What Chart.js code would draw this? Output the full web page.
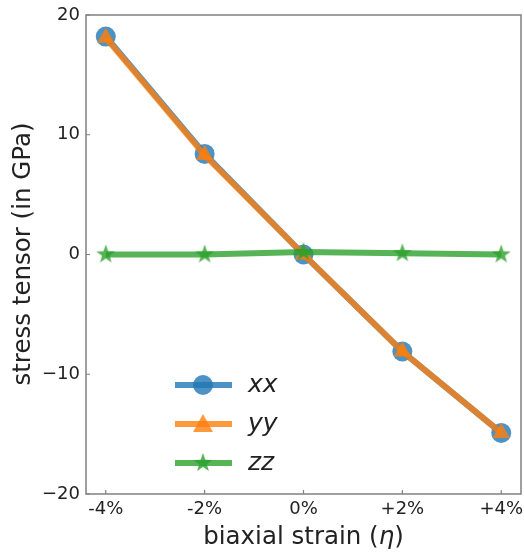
<!DOCTYPE html>
<html>
<head>
<meta charset="utf-8">
<script src="https://cdn.jsdelivr.net/npm/chart.js@4/dist/chart.umd.min.js"></script>
<style>
  html, body { margin: 0; padding: 0; background: #fff; }
  #wrap { width: 524px; height: 556px; }
</style>
</head>
<body>
<div id="wrap"><canvas id="stressChart" width="524" height="556"></canvas></div>
<script>
// biaxial strain in %, and stress tensor components in GPa
const strain = [-4, -2, 0, 2, 4];
const strainLabels = ['-4%', '-2%', '0%', '+2%', '+4%'];
const sxx = [18.2, 8.4, 0.0, -8.1, -14.9];
const syy = [18.1, 8.3, 0.0, -8.1, -14.9];
const szz = [0.0, 0.0, 0.2, 0.1, 0.0];
const yTicks = [20, 10, 0, -10, -20];

const BLUE = 'rgba(31,119,180,0.8)';
const ORANGE = 'rgba(255,127,14,0.8)';
const GREEN = 'rgba(44,160,44,0.8)';
const FONT = '"DejaVu Sans", sans-serif';

// filled five-point star, since the built-in 'star' is only stroked
function makeStar(r, color) {
  const c = document.createElement('canvas');
  c.width = c.height = r * 2 + 2;
  const g = c.getContext('2d');
  g.fillStyle = color;
  g.beginPath();
  for (let i = 0; i < 10; i++) {
    const rr = i % 2 === 0 ? r : r * 0.4;
    const a = -Math.PI / 2 + i * Math.PI / 5;
    const px = r + 1 + rr * Math.cos(a);
    const py = r + 1 + rr * Math.sin(a);
    if (i === 0) g.moveTo(px, py); else g.lineTo(px, py);
  }
  g.closePath();
  g.fill();
  return c;
}
const starImg = makeStar(10, GREEN);

const toPoints = ys => strain.map((x, i) => ({ x: x, y: ys[i] }));
const fmtY = v => (v < 0 ? '\u2212' + Math.abs(v) : String(v));

// inward ticks, frame, axis titles and the legend box
const decorations = {
  id: 'decorations',
  afterDraw(chart) {
    const { ctx, chartArea: a, scales } = chart;
    const xs = scales.x, ys = scales.y;
    ctx.save();
    ctx.strokeStyle = '#808080';
    ctx.lineWidth = 1.5;
    ctx.strokeRect(a.left, a.top, a.right - a.left, a.bottom - a.top);

    ctx.lineWidth = 1.2;
    ctx.beginPath();
    strain.forEach(v => {
      const px = xs.getPixelForValue(v);
      ctx.moveTo(px, a.bottom);
      ctx.lineTo(px, a.bottom - 4);
    });
    yTicks.forEach(v => {
      const py = ys.getPixelForValue(v);
      ctx.moveTo(a.left, py);
      ctx.lineTo(a.left + 4, py);
    });
    ctx.stroke();

    ctx.fillStyle = '#222';
    ctx.font = '18px ' + FONT;
    ctx.textAlign = 'center';
    ctx.textBaseline = 'middle';
    strain.forEach((v, i) => {
      ctx.fillText(strainLabels[i], xs.getPixelForValue(v), a.bottom + 15);
    });
    ctx.textAlign = 'right';
    yTicks.forEach(v => {
      ctx.fillText(fmtY(v), a.left - 6, ys.getPixelForValue(v));
    });

    // x title with italic eta
    const TF = '24.5px ' + FONT, TFI = 'italic 24.5px ' + FONT;
    ctx.font = TF;
    ctx.textAlign = 'left';
    const t1 = 'biaxial strain (', t2 = 'η', t3 = ')';
    const w1 = ctx.measureText(t1).width;
    const w3 = ctx.measureText(t3).width;
    ctx.font = TFI;
    const w2 = ctx.measureText(t2).width;
    const sx = (a.left + a.right) / 2 - (w1 + w2 + w3) / 2;
    const ty = 538;
    ctx.font = TF;
    ctx.fillText(t1, sx, ty);
    ctx.font = TFI;
    ctx.fillText(t2, sx + w1, ty);
    ctx.font = TF;
    ctx.fillText(t3, sx + w1 + w2, ty);

    // y title
    ctx.save();
    ctx.translate(24, 254);
    ctx.rotate(-Math.PI / 2);
    ctx.textAlign = 'center';
    ctx.font = TF;
    ctx.fillText('stress tensor (in GPa)', 0, 0);
    ctx.restore();

    // legend
    const items = [
      { label: 'xx', color: BLUE, y: 385, marker: 'circle' },
      { label: 'yy', color: ORANGE, y: 424, marker: 'triangle' },
      { label: 'zz', color: GREEN, y: 463, marker: 'star' }
    ];
    items.forEach(it => {
      ctx.strokeStyle = it.color;
      ctx.lineWidth = 6;
      ctx.lineCap = 'butt';
      ctx.beginPath();
      ctx.moveTo(175, it.y);
      ctx.lineTo(232, it.y);
      ctx.stroke();
      ctx.fillStyle = it.color;
      if (it.marker === 'circle') {
        ctx.beginPath();
        ctx.arc(203, it.y, 10, 0, Math.PI * 2);
        ctx.fill();
      } else if (it.marker === 'triangle') {
        ctx.beginPath();
        ctx.moveTo(203, it.y - 10);
        ctx.lineTo(213, it.y + 8);
        ctx.lineTo(193, it.y + 8);
        ctx.closePath();
        ctx.fill();
      } else {
        ctx.drawImage(starImg, 203 - 11, it.y - 11);
      }
      ctx.fillStyle = '#222';
      ctx.font = 'italic 25px ' + FONT;
      ctx.textAlign = 'left';
      ctx.fillText(it.label, 248, it.y);
    });
    ctx.restore();
  }
};

new Chart(document.getElementById('stressChart'), {
  type: 'line',
  data: {
    datasets: [
      {
        label: 'zz', data: toPoints(szz), order: 0,
        borderColor: GREEN, backgroundColor: GREEN, borderWidth: 6,
        pointStyle: starImg, pointRadius: 10
      },
      {
        label: 'yy', data: toPoints(syy), order: 1,
        borderColor: ORANGE, backgroundColor: ORANGE, borderWidth: 6,
        pointStyle: 'triangle', pointRadius: 10, pointBorderWidth: 0
      },
      {
        label: 'xx', data: toPoints(sxx), order: 2,
        borderColor: BLUE, backgroundColor: BLUE, borderWidth: 6,
        pointStyle: 'circle', pointRadius: 10, pointBorderWidth: 0
      }
    ]
  },
  options: {
    responsive: false,
    animation: false,
    layout: { autoPadding: false, padding: { top: 15, right: 3, left: 0, bottom: 0 } },
    plugins: { legend: { display: false }, tooltip: { enabled: false } },
    scales: {
      x: {
        type: 'linear', min: -4.4, max: 4.4,
        grid: { display: false }, border: { display: false },
        ticks: { display: false },
        afterFit(s) { s.height = 62; }
      },
      y: {
        min: -20, max: 20,
        grid: { display: false }, border: { display: false },
        ticks: { display: false },
        afterFit(s) { s.width = 86; }
      }
    }
  },
  plugins: [decorations]
});
</script>
</body>
</html>
